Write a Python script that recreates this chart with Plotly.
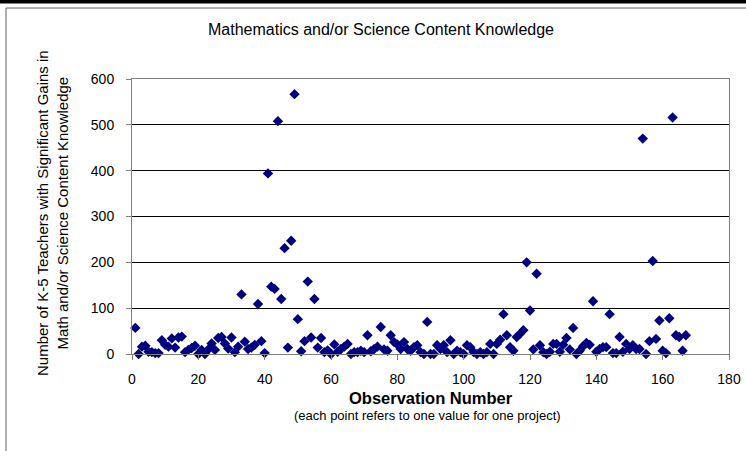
import plotly.graph_objects as go

# observation number -> teachers with significant gains
observations = list(range(1, 168))
teachers = [
    57, 0, 16, 18, 5, 4, 2, 2, 30, 20,
    16, 34, 14, 36, 38, 4, 9, 13, 18, 0,
    9, 0, 10, 23, 9, 35, 37, 23, 12, 36,
    4, 16, 130, 27, 11, 14, 20, 109, 28, 2,
    394, 147, 142, 508, 120, 231, 14, 247, 567, 76,
    6, 28, 158, 36, 120, 14, 35, 4, 8, 0,
    21, 5, 11, 16, 22, 0, 4, 4, 7, 4,
    41, 6, 11, 16, 59, 10, 7, 41, 26, 21,
    11, 26, 11, 7, 15, 19, 4, 0, 70, 0,
    0, 19, 11, 19, 4, 30, 0, 7, 4, 0,
    19, 15, 4, 0, 4, 0, 4, 22, 0, 22,
    31, 87, 41, 15, 7, 37, 44, 52, 200, 95,
    10, 175, 19, 4, 0, 5, 22, 22, 5, 20,
    35, 10, 57, 0, 7, 17, 24, 20, 115, 5,
    11, 15, 15, 87, 2, 2, 37, 5, 22, 11,
    19, 11, 11, 470, 0, 28, 203, 33, 73, 7,
    2, 78, 516, 41, 37, 7, 41,
]

x_ticks = list(range(0, 181, 20))
y_ticks = list(range(0, 601, 100))

FONT = "Liberation Sans, Arial, sans-serif"

# plot area in page pixels
PLOT_L, PLOT_R, PLOT_T, PLOT_B = 132, 729, 79, 354


def px_x(p):
    return (p - PLOT_L) / (PLOT_R - PLOT_L)


def px_y(p):
    return (PLOT_B - p) / (PLOT_B - PLOT_T)


fig = go.Figure()
fig.add_trace(go.Scatter(
    x=observations,
    y=teachers,
    mode="markers",
    marker=dict(symbol="diamond", size=8, color="#000080", line=dict(width=0)),
    showlegend=False,
    cliponaxis=False,
))

fig.update_layout(
    width=746,
    height=451,
    autosize=False,
    margin=dict(l=PLOT_L, r=746 - PLOT_R, t=PLOT_T, b=451 - PLOT_B),
    paper_bgcolor="white",
    plot_bgcolor="white",
    font=dict(family=FONT, size=14, color="black"),
    showlegend=False,
)

axis_common = dict(
    ticks="outside",
    ticklen=5,
    tickcolor="#808080",
    zeroline=False,
    showline=True,
    linecolor="#808080",
    linewidth=1,
    mirror=True,
    automargin=False,
    tickfont=dict(size=14),
)
fig.update_xaxes(
    range=[0, 180],
    tickvals=x_ticks,
    ticklabelstandoff=7,
    ticklabeloverflow="allow",
    showgrid=False,
    **axis_common,
)
fig.update_yaxes(
    range=[0, 600],
    tickvals=y_ticks,
    ticklabelstandoff=9,
    showgrid=True,
    gridcolor="black",
    gridwidth=1,
    **axis_common,
)

# titles as annotations placed in paper space
fig.add_annotation(
    text="Mathematics and/or Science Content Knowledge",
    xref="paper", yref="paper", x=px_x(381), y=px_y(30),
    showarrow=False, font=dict(size=16),
    xanchor="center", yanchor="middle",
)
fig.add_annotation(
    text="Number of K-5 Teachers with Significant Gains in<br>Math and/or Science Content Knowledge",
    xref="paper", yref="paper", x=px_x(52), y=px_y(213),
    showarrow=False, textangle=-90, font=dict(size=15),
    xanchor="center", yanchor="middle",
)
fig.add_annotation(
    text="<b>Observation Number</b>",
    xref="paper", yref="paper", x=px_x(431), y=px_y(397.5),
    showarrow=False, font=dict(size=16.5),
    xanchor="center", yanchor="middle",
)
fig.add_annotation(
    text="(each point refers to one value for one project)",
    xref="paper", yref="paper", x=px_x(427), y=px_y(415),
    showarrow=False, font=dict(size=13),
    xanchor="center", yanchor="middle",
)

# outer chart frame
fig.add_shape(type="line", xref="paper", yref="paper",
              x0=px_x(-5), x1=px_x(760), y0=px_y(1.5), y1=px_y(1.5),
              line=dict(color="black", width=4))
fig.add_shape(type="line", xref="paper", yref="paper",
              x0=px_x(6), x1=px_x(760), y0=px_y(8), y1=px_y(8),
              line=dict(color="#606060", width=1))
fig.add_shape(type="line", xref="paper", yref="paper",
              x0=px_x(6), x1=px_x(6), y0=px_y(8), y1=px_y(460),
              line=dict(color="#606060", width=1))

fig.write_html(
    "out.html",
    config={"responsive": False, "displayModeBar": False},
    post_script="document.body.style.margin='0';document.body.style.overflow='hidden';",
)
